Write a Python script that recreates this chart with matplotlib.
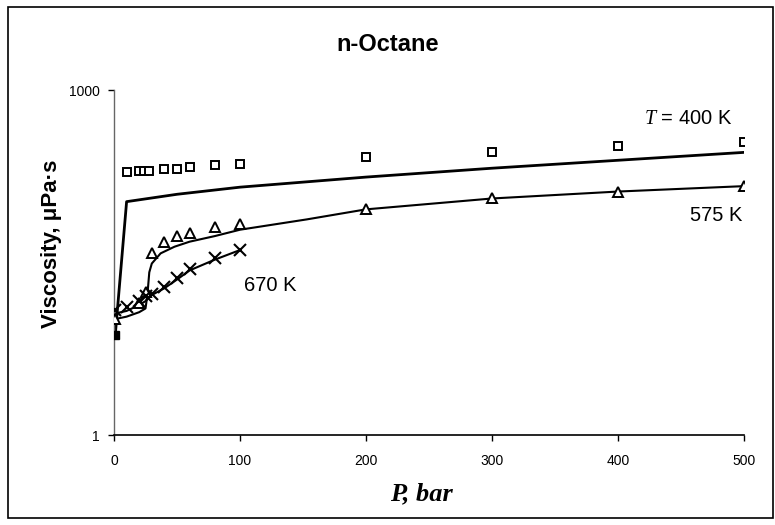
import matplotlib
matplotlib.use("Agg")
import matplotlib.pyplot as plt
from matplotlib.patches import Rectangle

plt.rcParams["font.family"] = ["Liberation Sans", "DejaVu Sans"]
plt.rcParams["mathtext.fontset"] = "custom"
plt.rcParams["mathtext.it"] = "Liberation Serif:italic"
plt.rcParams["mathtext.rm"] = "Liberation Sans"

# Experimental viscosities (μPa·s) vs pressure (bar)
p_400_exp = [1, 10, 20, 24, 28, 40, 50, 60, 80, 100, 200, 300, 400, 500]
v_400_exp = [7.4, 195, 197, 198, 199, 204, 206, 213, 223, 227, 260, 291, 328, 355]

p_575_exp = [1, 20, 25, 30, 40, 50, 60, 80, 100, 200, 300, 400, 500]
v_575_exp = [10.2, 14.2, 17.6, 38.5, 48, 53.7, 57.4, 64, 68.4, 91.7, 114, 131, 146]

p_670_exp = [1, 10, 20, 25, 30, 40, 50, 60, 80, 100]
v_670_exp = [12.2, 13.1, 14.5, 16.2, 17.0, 19.2, 23.0, 27.7, 34.5, 40.6]

# Model curves
p_400_mod = [1, 10, 50, 100, 200, 300, 400, 500]
v_400_mod = [7.4, 107, 124, 143, 175, 209, 245, 287]

p_575_mod = [1, 10, 20, 25, 26.5, 28, 30, 37, 48, 60, 80, 100, 153, 200, 300, 400, 500]
v_575_mod = [10.2, 10.7, 11.7, 12.6, 16.5, 26, 31, 38, 43.4, 48, 53.7, 61, 75, 91.7, 114, 131, 146]

p_670_mod = [1, 10, 20, 25, 30, 40, 50, 60, 80, 100]
v_670_mod = [11.4, 12.0, 13.5, 14.6, 16.5, 18.9, 22.5, 27.0, 33.5, 40.6]

x_ticks = [0, 100, 200, 300, 400, 500]
y_ticks = [1, 1000]

fig = plt.figure(figsize=(7.75, 5.25), dpi=100)
ax = fig.add_axes([0.1471, 0.1714, 0.8129, 0.6571])

ax.plot(p_400_mod, v_400_mod, color="black", lw=2.0, zorder=2)
ax.plot(p_575_mod, v_575_mod, color="black", lw=1.5, zorder=2)
ax.plot(p_670_mod, v_670_mod, color="black", lw=1.5, zorder=2)

ax.plot(p_400_exp[1:], v_400_exp[1:], ls="none", marker="s", ms=5.5,
        mfc="white", mec="black", mew=1.4, zorder=3)
ax.plot(p_400_exp[:1], v_400_exp[:1], ls="none", marker="s", ms=5.5,
        mfc="black", mec="black", zorder=3)
ax.plot(p_575_exp, v_575_exp, ls="none", marker="^", ms=6.5,
        mfc="white", mec="black", mew=1.4, zorder=3)
ax.plot(p_670_exp, v_670_exp, ls="none", marker="x", ms=8,
        color="black", mew=1.5, zorder=3)

ax.set_yscale("log")
ax.set_xlim(0, 500)
ax.set_ylim(1, 1000)
ax.set_xticks(x_ticks)
ax.set_xticklabels([str(t) for t in x_ticks])
ax.set_yticks(y_ticks)
ax.set_yticklabels([str(t) for t in y_ticks])
ax.yaxis.set_minor_locator(matplotlib.ticker.NullLocator())
ax.tick_params(axis="both", labelsize=10, length=4, width=1, direction="out")
ax.tick_params(axis="x", pad=10)
ax.tick_params(axis="y", pad=6)

for side in ("top", "right"):
    ax.spines[side].set_visible(False)
ax.spines["left"].set_color("#666666")
ax.spines["left"].set_linewidth(1.0)
ax.spines["bottom"].set_linewidth(1.2)

fig.text(421 / 775, 1 - 494 / 525, "P, bar", family="Liberation Serif",
         style="italic", weight="bold", fontsize=19, ha="center", va="center")
fig.text(52 / 775, 1 - 244 / 525, "Viscosity, μPa·s", fontsize=16,
         weight="bold", rotation=90, ha="center", va="center")
fig.text(0.5, 0.915, "n-Octane", ha="center", va="center",
         fontsize=17, weight="bold")

ax.text(421, 571, "$T$ = 400 K", fontsize=14.5, ha="left", va="center")
ax.text(457, 81.8, "575 K", fontsize=14.5, ha="left", va="center")
ax.text(103, 20.1, "670 K", fontsize=14.5, ha="left", va="center")

fig.patches.append(Rectangle((8 / 775, 7 / 525), 765 / 775, 511 / 525,
                             transform=fig.transFigure, fill=False,
                             edgecolor="black", lw=1.2))

fig.savefig("out.png", dpi=100)
